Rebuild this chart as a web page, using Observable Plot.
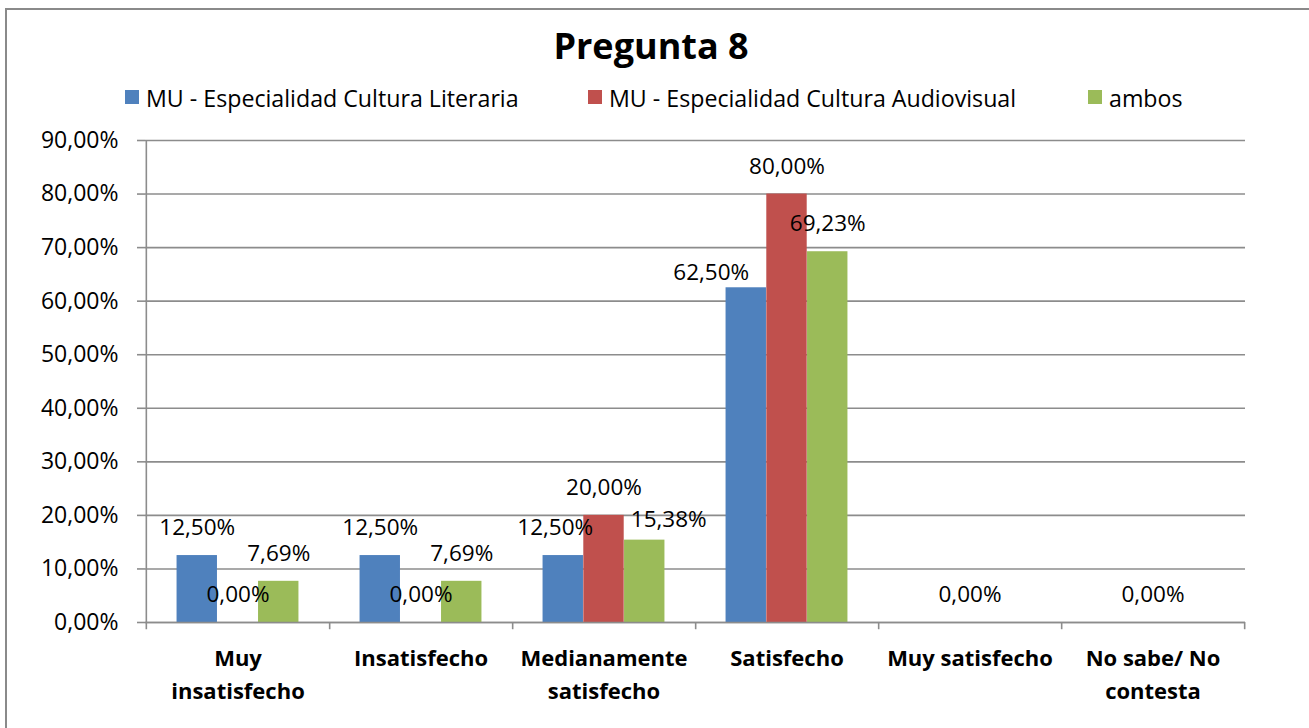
<!DOCTYPE html>
<html>
<head>
<meta charset="utf-8">
<script src="https://cdn.jsdelivr.net/npm/d3@7"></script>
<script src="https://cdn.jsdelivr.net/npm/@observablehq/plot@0.6"></script>
<style>
  html, body { margin: 0; padding: 0; background: #fff; }
  #wrap { position: relative; width: 1309px; height: 728px; overflow: hidden; font-family: "Open Sans", sans-serif; }
  #border { position: absolute; left: 5px; top: 8px; width: 1302px; height: 730px; border-top: 2px solid #8a8a8a; border-left: 2px solid #8a8a8a; border-right: 1px solid #e6e6e6; }
  #title { position: absolute; left: 0; width: 1302px; top: 21px; text-align: center; font-weight: 700; font-size: 36px; color: #000; }
  .leg { position: absolute; top: 83px; font-size: 23.2px; color: #000; white-space: nowrap; line-height: 30px; }
  .sw { position: absolute; top: 7px; width: 14px; height: 14px; }
  #chart { position: absolute; left: 0; top: 120px; }
</style>
</head>
<body>
<div id="wrap">
  <div id="border"></div>
  <div id="title">Pregunta 8</div>
  <div id="legend"></div>
  <div id="chart"></div>
</div>
<script>
const categories = ["Muy insatisfecho", "Insatisfecho", "Medianamente satisfecho", "Satisfecho", "Muy satisfecho", "No sabe/ No contesta"];
const tickLabels = ["Muy\ninsatisfecho", "Insatisfecho", "Medianamente\nsatisfecho", "Satisfecho", "Muy satisfecho", "No sabe/ No\ncontesta"];
const seriesNames = ["MU - Especialidad Cultura Literaria", "MU - Especialidad Cultura Audiovisual", "ambos"];
const seriesColors = ["#4F81BD", "#C0504D", "#9BBB59"];
const literaria = [12.5, 12.5, 12.5, 62.5, null, null];
const audiovisual = [0, 0, 20, 80, 0, 0];
const ambos = [7.69, 7.69, 15.38, 69.23, null, null];
const yTicks = [0, 10, 20, 30, 40, 50, 60, 70, 80, 90];

const seriesValues = [literaria, audiovisual, ambos];
const fmt = v => v.toFixed(2).replace(".", ",") + "%";

// manual label nudges (as in the original chart), [series][category] -> [dx, dy] in px
const labelNudge = {
  "0|2": [-8, 0],
  "2|2": [24, 7],
  "0|3": [-35, 13]
};

// legend
const legendLefts = [125, 588, 1088];
const legend = document.getElementById("legend");
seriesNames.forEach((name, i) => {
  const d = document.createElement("div");
  d.className = "leg";
  d.style.left = legendLefts[i] + "px";
  d.innerHTML = `<span class="sw" style="left:0;background:${seriesColors[i]}"></span><span style="margin-left:21px">${name}</span>`;
  legend.appendChild(d);
});

const W = 1309, H = 600;
const mL = 145, mR = 64, mT = 20, mB = 98;
const step = (W - mL - mR) / categories.length;
const barW = step / (3 + 1.5);       // gap width 150%
const offset = 0.75 * barW;

const marks = [];
marks.push(Plot.gridY(yTicks, {stroke: "#8c8c8c", strokeOpacity: 1, strokeWidth: 1.6}));
marks.push(Plot.axisY(yTicks, {label: null, tickFormat: fmt, tickSize: 8, tickPadding: 19, fontSize: 23, stroke: "#8c8c8c", strokeWidth: 1.6, fill: "#000"}));
seriesValues.forEach((vals, i) => {
  const data = categories.map((c, j) => ({c, v: vals[j]})).filter(d => d.v != null);
  marks.push(Plot.barY(data, {
    x: "c", y: "v", fill: seriesColors[i],
    insetLeft: offset + i * barW,
    insetRight: step - offset - (i + 1) * barW
  }));
});
marks.push(Plot.ruleX([categories[0]], {x: d => d, dx: -step / 2, y1: -1.35, y2: 90, stroke: "#8c8c8c", strokeWidth: 1.6}));
marks.push(Plot.ruleY([0], {stroke: "#8c8c8c", strokeWidth: 1.6}));
marks.push(Plot.ruleX(categories, {x: d => d, dx: step / 2, y1: -1.35, y2: 0, stroke: "#8c8c8c", strokeWidth: 1.6}));
seriesValues.forEach((vals, i) => {
  categories.forEach((c, j) => {
    if (vals[j] == null) return;
    const n = labelNudge[i + "|" + j] || [0, 0];
    marks.push(Plot.text([{c, v: vals[j]}], {
      x: "c", y: "v", text: d => fmt(d.v), dx: (i - 1) * barW + n[0], dy: -27.5 + n[1],
      fontSize: 22.5, fill: "#000"
    }));
  });
});
marks.push(Plot.text(categories, {
  x: d => d, text: (d, j) => tickLabels[j], frameAnchor: "bottom", lineAnchor: "top",
  dy: 20, fontSize: 22, fontWeight: "bold", lineHeight: 1.5, fill: "#000"
}));

const chart = Plot.plot({
  width: W, height: H,
  marginLeft: mL, marginRight: mR, marginTop: mT, marginBottom: mB,
  style: {fontFamily: "'Open Sans', sans-serif", background: "transparent", overflow: "visible"},
  x: {type: "band", domain: categories, padding: 0, axis: null},
  y: {domain: [0, 90], axis: null},
  marks
});
document.getElementById("chart").appendChild(chart);
</script>
</body>
</html>
